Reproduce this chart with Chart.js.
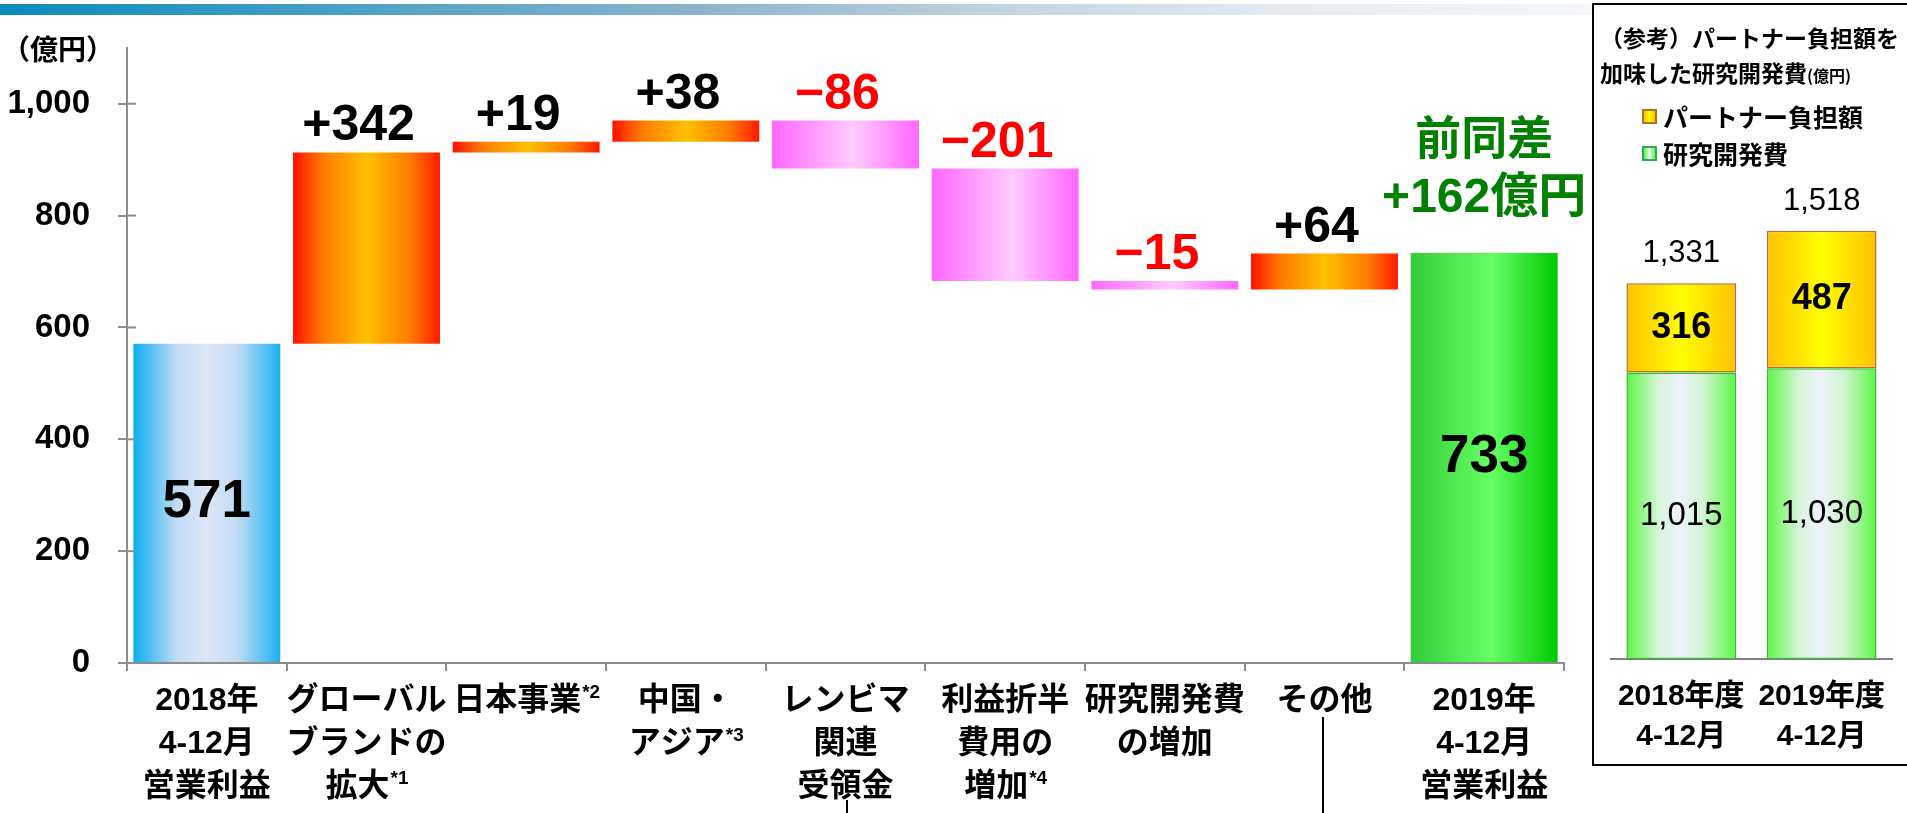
<!DOCTYPE html>
<html lang="ja">
<head>
  <meta charset="UTF-8" />
  <title>営業利益 増減要因</title>
  <script src="https://cdn.jsdelivr.net/npm/chart.js"></script>
  <style>
    body {
      margin: 0;
      width: 1907px;
      height: 813px;
      overflow: hidden;
      background: #fff;
      position: relative;
      font-family: "Liberation Sans", "Noto Sans CJK JP", sans-serif;
      color: #000;
    }
    .banner {
      position: absolute;
      left: 0;
      top: 4px;
      width: 1593px;
      height: 11px;
      background: linear-gradient(90deg, #0a8cbe 0%, #8db3cc 44%, #c2d4e2 63%, #e6edf2 82%, #f5f7f9 100%);
    }
    #main { position: absolute; left: 0; top: 0; }
    .unit {
      position: absolute;
      left: 2px;
      top: 28px;
      font: bold 28px "Noto Sans CJK JP", sans-serif;
    }
    .panel {
      position: absolute;
      left: 1592px;
      top: 3px;
      width: 340px;
      height: 763px;
      border: 2px solid #000;
      box-sizing: border-box;
    }
    .panel-title {
      position: absolute;
      left: 1600px;
      top: 20px;
      font: bold 23px/35px "Noto Sans CJK JP", sans-serif;
      white-space: nowrap;
    }
    .panel-title small { font-size: 16px; }
    .legend {
      position: absolute;
      left: 1642px;
      font: bold 25px/37px "Noto Sans CJK JP", sans-serif;
      white-space: nowrap;
    }
    .legend div { display: flex; align-items: center; height: 37px; }
    .legend i {
      display: inline-block;
      width: 11px;
      height: 11px;
      margin-right: 6px;
      box-sizing: content-box;
    }
    .sw-partner { background: linear-gradient(90deg, #ffc000, #ffff00, #ffc000); border: 2px solid #b5702e; }
    .sw-rd { background: linear-gradient(90deg, #5cf542, #eef2fb, #5cf542); border: 2px solid #22b14c; }
    .mark { position: absolute; width: 2px; background: #000; }
    #rd { position: absolute; left: 1595px; top: 170px; }
  </style>
</head>
<body>
  <div class="banner"></div>
  <canvas id="main" width="1600" height="813"></canvas>
  <div class="unit">（億円）</div>
  <div class="mark" style="left:846px; top:800px; height:13px;"></div>
  <div class="mark" style="left:1322px; top:717px; height:96px;"></div>

  <div class="panel"></div>
  <div class="panel-title">（参考）パートナー負担額を<br>加味した研究開発費<small>(億円)</small></div>
  <div class="legend" style="top:98px;">
    <div><i class="sw-partner"></i>パートナー負担額</div>
    <div><i class="sw-rd"></i>研究開発費</div>
  </div>
  <canvas id="rd" width="310" height="595"></canvas>

  <script>
    // ---- data ----
    const mainCategories = [
      ["2018年", "4-12月", "営業利益"],
      ["グローバル", "ブランドの", "拡大*1"],
      ["日本事業*2"],
      ["中国・", "アジア*3"],
      ["レンビマ", "関連", "受領金"],
      ["利益折半", "費用の", "増加*4"],
      ["研究開発費", "の増加"],
      ["その他"],
      ["2019年", "4-12月", "営業利益"]
    ];
    const profitStart = 571;
    const changes = [342, 19, 38, -86, -201, -15, 64];
    const profitEnd = 733;

    const rdYears = [["2018年度", "4-12月"], ["2019年度", "4-12月"]];
    const rdOwn = [1015, 1030];
    const rdPartner = [316, 487];
    const rdTotals = [1331, 1518];

    const LATIN = '"Liberation Sans", "Noto Sans CJK JP", sans-serif';

    // floating bars for the waterfall
    const ranges = [[0, profitStart]];
    const kinds = ["total"];
    let run = profitStart;
    changes.forEach(c => {
      ranges.push([run, run + c]);
      kinds.push(c >= 0 ? "up" : "down");
      run += c;
    });
    ranges.push([0, profitEnd]);
    kinds.push("end");

    const stops = {
      total: [[0, "#0aaeee"], [0.3, "#c4dcf4"], [0.5, "#dce6f4"], [0.7, "#c4dcf4"], [1, "#1db1ef"]],
      up: [[0, "#ff1000"], [0.2, "#ff7a00"], [0.5, "#ffc000"], [0.8, "#ff7a00"], [1, "#ff1a00"]],
      down: [[0, "#ff66ff"], [0.55, "#ffcbff"], [1, "#ff66ff"]],
      end: [[0, "#33cc3a"], [0.55, "#66ff66"], [1, "#00c800"]],
      rd: [[0, "#5cf542"], [0.3, "#d8f5dc"], [0.5, "#eef2fb"], [0.7, "#d0f5d0"], [1, "#5cf542"]],
      partner: [[0, "#ffc000"], [0.5, "#ffff00"], [1, "#ffc000"]]
    };

    function barGradient(c, list, pct) {
      const chart = c.chart;
      const xs = chart.scales.x;
      if (!chart.chartArea || !xs) return list[Math.floor(list.length / 2)][1];
      const cx = xs.getPixelForValue(c.dataIndex);
      const half = (xs.width / xs.getLabels().length) * pct / 2;
      const g = chart.ctx.createLinearGradient(cx - half, 0, cx + half, 0);
      list.forEach(s => g.addColorStop(s[0], s[1]));
      return g;
    }

    function drawCatLine(ctx, text, x, y, size) {
      const m = text.match(/^(.*?)(\*\d)?$/);
      const body = m[1], sup = m[2] || "";
      const bodyFont = "bold " + size + "px " + LATIN;
      const supFont = "bold 19px " + LATIN;
      ctx.font = bodyFont;
      const w1 = ctx.measureText(body).width;
      ctx.font = supFont;
      const w2 = sup ? ctx.measureText(sup).width : 0;
      const sx = x - (w1 + w2) / 2;
      ctx.textAlign = "left";
      ctx.textBaseline = "middle";
      ctx.font = bodyFont;
      ctx.fillText(body, sx, y);
      if (sup) {
        ctx.font = supFont;
        ctx.fillText(sup, sx + w1 + 1, y - 8);
      }
    }

    const mainLabels = {
      id: "mainLabels",
      afterDatasetsDraw(chart) {
        const ctx = chart.ctx;
        const meta = chart.getDatasetMeta(0);
        const xs = chart.scales.x, ys = chart.scales.y;
        const area = chart.chartArea;
        ctx.save();

        // inner half of y tick marks
        ctx.strokeStyle = "#8c8c8c";
        ctx.lineWidth = 2;
        ys.ticks.forEach(t => {
          const y = ys.getPixelForValue(t.value);
          ctx.beginPath();
          ctx.moveTo(area.left, y);
          ctx.lineTo(area.left + 9, y);
          ctx.stroke();
        });

        meta.data.forEach((bar, i) => {
          const r = ranges[i];
          ctx.textAlign = "center";
          if (kinds[i] === "total" || kinds[i] === "end") {
            ctx.font = "bold 53px " + LATIN;
            ctx.fillStyle = "#000";
            ctx.textBaseline = "middle";
            ctx.fillText(String(r[1]), bar.x, (bar.y + bar.base) / 2);
          } else {
            const d = r[1] - r[0];
            const top = Math.min(bar.y, bar.base);
            ctx.font = "bold 50px " + LATIN;
            ctx.fillStyle = d > 0 ? "#000" : "#ff0000";
            ctx.textBaseline = "alphabetic";
            ctx.fillText((d > 0 ? "+" : "\u2212") + Math.abs(d), bar.x - 8, top - 12);
          }
        });

        // 前同差 annotation above the last bar
        const last = meta.data[meta.data.length - 1];
        const lastTop = Math.min(last.y, last.base);
        ctx.fillStyle = "#008000";
        ctx.textAlign = "center";
        ctx.textBaseline = "middle";
        ctx.font = "bold 46px " + LATIN;
        ctx.fillText("前同差", last.x, lastTop - 112);
        ctx.font = "bold 48px " + LATIN;
        ctx.fillText("+" + (profitEnd - profitStart) + "億円", last.x, lastTop - 54);

        // category labels
        ctx.fillStyle = "#000";
        mainCategories.forEach((lines, i) => {
          const x = xs.getPixelForValue(i);
          lines.forEach((t, k) => drawCatLine(ctx, t, x, area.bottom + 38 + k * 43, 32));
        });
        ctx.restore();
      }
    };

    new Chart(document.getElementById("main"), {
      type: "bar",
      data: {
        labels: mainCategories,
        datasets: [{
          data: ranges,
          backgroundColor: c => barGradient(c, stops[kinds[c.dataIndex]], 0.92),
          borderWidth: 0,
          barPercentage: 0.92,
          categoryPercentage: 1
        }]
      },
      options: {
        responsive: false,
        animation: false,
        layout: { padding: { top: 45, right: 36, left: 0, bottom: 0 } },
        plugins: { legend: { display: false }, tooltip: { enabled: false } },
        scales: {
          x: {
            grid: { drawOnChartArea: false, color: "#8c8c8c", lineWidth: 2, tickLength: 8, offset: true },
            border: { color: "#8c8c8c", width: 2 },
            ticks: { display: false },
            afterFit: s => { s.height = 150; }
          },
          y: {
            min: 0,
            max: 1100,
            grid: { drawOnChartArea: false, color: "#8c8c8c", lineWidth: 2, tickLength: 9 },
            border: { color: "#8c8c8c", width: 2 },
            ticks: {
              stepSize: 200,
              includeBounds: false,
              padding: 28,
              color: "#000",
              font: { family: LATIN, size: 33, weight: "bold" },
              callback: v => v.toLocaleString("en-US")
            },
            afterFit: s => { s.width = 127; }
          }
        }
      },
      plugins: [mainLabels]
    });

    const rdLabels = {
      id: "rdLabels",
      afterDatasetsDraw(chart) {
        const ctx = chart.ctx;
        const own = chart.getDatasetMeta(0).data;
        const partner = chart.getDatasetMeta(1).data;
        const xs = chart.scales.x;
        ctx.save();
        ctx.textAlign = "center";
        ctx.fillStyle = "#000";
        own.forEach((b, i) => {
          ctx.font = "33px " + LATIN;
          ctx.textBaseline = "middle";
          ctx.fillText(rdOwn[i].toLocaleString("en-US"), b.x, (b.y + b.base) / 2);
        });
        partner.forEach((b, i) => {
          ctx.font = "bold 36px " + LATIN;
          ctx.textBaseline = "middle";
          ctx.fillText(String(rdPartner[i]), b.x, (b.y + b.base) / 2);
          ctx.font = "31px " + LATIN;
          ctx.textBaseline = "alphabetic";
          ctx.fillText(rdTotals[i].toLocaleString("en-US"), b.x, b.y - 21);
        });
        ctx.textBaseline = "middle";
        ctx.font = "bold 30px " + LATIN;
        rdYears.forEach((lines, i) => {
          lines.forEach((t, k) => ctx.fillText(t, xs.getPixelForValue(i), chart.chartArea.bottom + 38 + k * 40));
        });
        ctx.restore();
      }
    };

    new Chart(document.getElementById("rd"), {
      type: "bar",
      data: {
        labels: rdYears,
        datasets: [
          {
            label: "研究開発費",
            data: rdOwn,
            backgroundColor: c => barGradient(c, stops.rd, 0.78),
            borderColor: "#33bb33",
            borderWidth: 1.5,
            borderSkipped: false
          },
          {
            label: "パートナー負担額",
            data: rdPartner,
            backgroundColor: c => barGradient(c, stops.partner, 0.78),
            borderColor: "#b5702e",
            borderWidth: 1.5,
            borderSkipped: false
          }
        ]
      },
      options: {
        responsive: false,
        animation: false,
        layout: { padding: { left: 16, right: 13, top: 9, bottom: 0 } },
        datasets: { bar: { barPercentage: 0.78, categoryPercentage: 1 } },
        plugins: { legend: { display: false }, tooltip: { enabled: false } },
        scales: {
          x: {
            stacked: true,
            grid: { display: false },
            border: { color: "#808080", width: 2 },
            ticks: { display: false },
            afterFit: s => { s.height = 106; }
          },
          y: { stacked: true, display: false, min: 0, max: 1700 }
        }
      },
      plugins: [rdLabels]
    });
  </script>
</body>
</html>
